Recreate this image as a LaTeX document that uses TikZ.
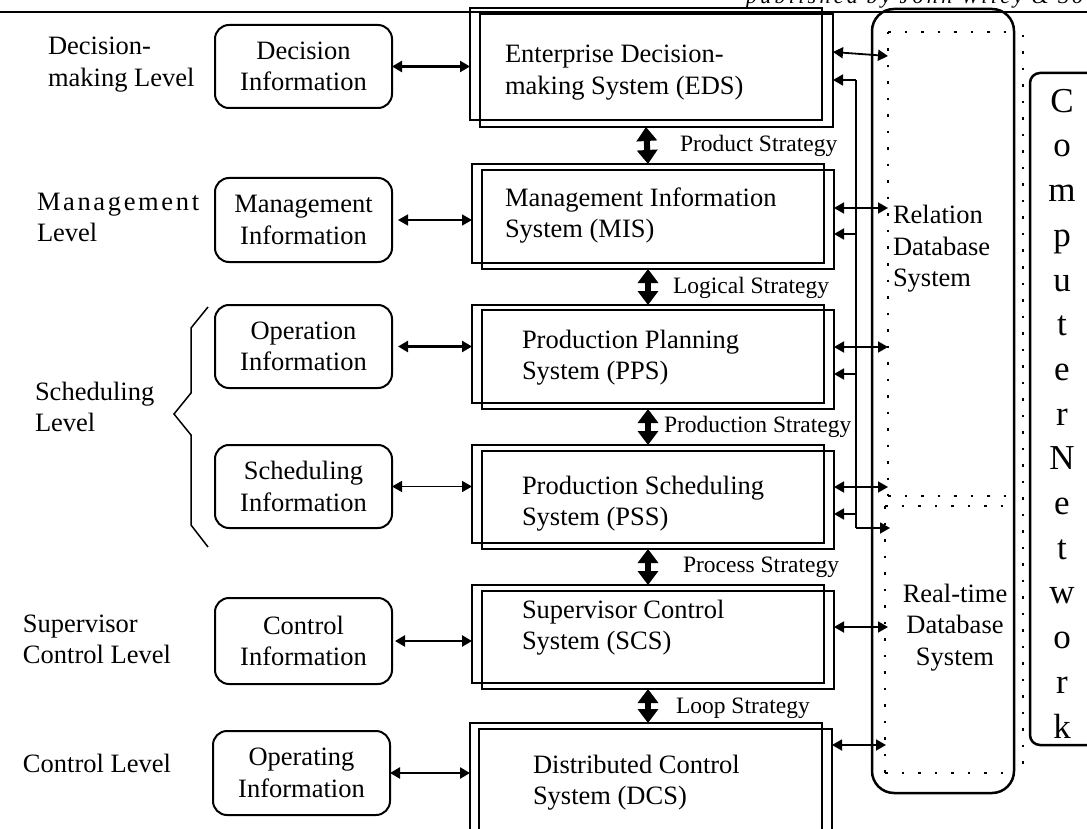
\documentclass[tikz,border=0pt]{standalone}
\usepackage{fontspec}
\setmainfont{Liberation Serif}
\usetikzlibrary{arrows.meta}

\newcommand{\mainsize}{\fontsize{26.5}{31.5}\selectfont}
\newcommand{\stratsize}{\fontsize{23.5}{28}\selectfont}

\tikzset{
  every node/.style={inner sep=0pt, outer sep=0pt},
  % multi-line nodes are placed by the baseline of their last line
  lbl/.style={font=\mainsize, align=left, anchor=base west},
  infobox/.style={draw, line width=2pt, rounded corners=14pt, font=\mainsize,
    align=center, minimum width=177pt},
  sysbox/.style={draw, line width=1.6pt},
  systext/.style={font=\mainsize, align=left, anchor=base west},
  strat/.style={font=\stratsize, anchor=base west},
  bigtip/.tip={Triangle[length=10pt 0 0,width=11pt 0 0]},
  fattip/.tip={Triangle[length=14pt 0 0,width=20pt 0 0]},
  thickarr/.style={line width=2.8pt, {bigtip}-{bigtip}},
  thinarr/.style={line width=1.6pt, {bigtip}-{bigtip}},
  stratarr/.style={line width=6pt, {fattip}-{fattip}},
  dbarr/.style={line width=1.8pt, {bigtip}-{bigtip}},
  feedline/.style={line width=1.8pt},
  feedarr/.style={line width=1.8pt, -{bigtip}},
  dots/.style={line width=1.6pt, dash pattern=on 2.5pt off 14pt},
}

\begin{document}
\begin{tikzpicture}[x=1pt,y=-1pt]
\useasboundingbox (0,0) rectangle (1087,829);

% header rule and running head
\draw[line width=1.5pt] (0,12) -- (1087,12);
\node[anchor=base west, font=\fontsize{22}{26}\selectfont\itshape\addfontfeature{LetterSpace=15}]
  (runhead) at (746,3.5) {published by John Wiley \& Sons};

% level labels
\node[lbl] (lvdec) at (48,86.5) {Decision-\\making Level};
\node[lbl] (lvman) at (37,241.5) {{\addfontfeature{LetterSpace=10}Management}\\Level};
\node[lbl] (lvsch) at (35,431.5) {Scheduling\\Level};
\node[lbl] (lvsup) at (23,663.5) {Supervisor\\Control Level};
\node[lbl] (lvcon) at (23,772) {Control Level};

% brace grouping the scheduling level
\draw[line width=1.5pt] (208,307) -- (191,328) -- (191,393) -- (174,414)
  -- (191,435) -- (191,525) -- (208,547);

% information boxes
\node[infobox, minimum height=83pt] (decinfo) at (303.5,66.5) {Decision\\Information};
\node[infobox, minimum height=84pt] (maninfo) at (303.5,220) {Management\\Information};
\node[infobox, minimum height=83pt] (opinfo)  at (303.5,346.5) {Operation\\Information};
\node[infobox, minimum height=83pt] (schinfo) at (303.5,486.5) {Scheduling\\Information};
\node[infobox, minimum height=86pt] (coninfo) at (303.5,641) {Control\\Information};
\node[infobox, minimum height=84pt] (opginfo) at (301.5,773) {Operating\\Information};

% system boxes: each drawn as two offset frames
\node[sysbox, minimum width=352pt, minimum height=112pt] (edsA) at (646,64) {};
\node[sysbox, minimum width=353pt, minimum height=113pt] (edsB) at (656.5,70.5) {};
\node[sysbox, minimum width=352pt, minimum height=99pt] (misA) at (648,213.5) {};
\node[sysbox, minimum width=352pt, minimum height=99pt] (misB) at (658,219.5) {};
\node[sysbox, minimum width=352pt, minimum height=98pt] (ppsA) at (648,354) {};
\node[sysbox, minimum width=352pt, minimum height=99pt] (ppsB) at (658,359.5) {};
\node[sysbox, minimum width=352pt, minimum height=98pt] (pssA) at (648,494) {};
\node[sysbox, minimum width=352pt, minimum height=98pt] (pssB) at (658,500) {};
\node[sysbox, minimum width=352pt, minimum height=98pt] (scsA) at (648,634) {};
\node[sysbox, minimum width=352pt, minimum height=98pt] (scsB) at (658,640) {};
\node[sysbox, minimum width=352pt, minimum height=147pt] (dcsA) at (646,796.5) {};
\node[sysbox, minimum width=353pt, minimum height=141pt] (dcsB) at (655.5,799.5) {};

\node[systext] (edstxt) at (505,94.5)  {Enterprise Decision-\\making System (EDS)};
\node[systext] (mistxt) at (505,237.5) {Management Information\\System (MIS)};
\node[systext] (ppstxt) at (522,379.5) {Production Planning\\System (PPS)};
\node[systext] (psstxt) at (522,525.5) {Production Scheduling\\System (PSS)};
\node[systext] (scstxt) at (522,649.5) {Supervisor Control\\System (SCS)};
\node[systext] (dcstxt) at (533,804.5) {Distributed Control\\System (DCS)};

% strategy labels
\node[strat] (st1) at (680,152) {Product Strategy};
\node[strat] (st2) at (673,293) {Logical Strategy};
\node[strat] (st3) at (664,432) {Production Strategy};
\node[strat] (st4) at (683,572) {Process Strategy};
\node[strat] (st5) at (676,713) {Loop Strategy};

% information exchange with the left boxes
\draw[thickarr] (decinfo.east) -- (edsA.west |- decinfo.east);
\draw[thinarr]  ([xshift=6pt]maninfo.east) -- (misA.west |- maninfo.east);
\draw[thickarr] ([xshift=6pt]opinfo.east) -- (ppsA.west |- opinfo.east);
\draw[thinarr]  (schinfo.east) -- (pssA.west |- schinfo.east);
\draw[thickarr] ([xshift=3pt]coninfo.east) -- (scsA.west |- coninfo.east);
\draw[thickarr] (opginfo.east) -- (dcsA.west |- opginfo.east);

% strategy arrows between levels
\draw[stratarr] (edsA.center |- edsB.south) -- (misA.north);
\draw[stratarr] (misA.center |- misB.south) -- (ppsA.north);
\draw[stratarr] (ppsA.center |- ppsB.south) -- (pssA.north);
\draw[stratarr] (pssA.center |- pssB.south) -- (scsA.north);
\draw[stratarr] (scsA.center |- scsB.south) -- (dcsA.north -| scsA.center);

% database frame and its two partitions
\node[draw, line width=2.5pt, rounded corners=22pt, minimum width=142pt,
  minimum height=784pt] (dbframe) at (943,401) {};
\draw[dots] (888,32) -- (1012,32);
\draw[dots] (888,32) -- (888,496);
\draw[dots] (888,496) -- (1010,496);
\draw[dots] (885,506) -- (1010,506);
\draw[dots] (885,506) -- (885,773);
\draw[dots] (885,773) -- (1012,773);
\draw[dots] (1023,35) -- (1023,770);

\node[systext] (reltxt) at (893,287) {Relation\\Database\\System};
\node[font=\mainsize, align=center, anchor=base] (rttxt) at (955,665)
  {Real-time\\Database\\System};

% computer network bar
\node[draw, line width=2.5pt, rounded corners=10pt, minimum width=80pt,
  minimum height=672pt] (cnbox) at (1070,409) {};
\node[font=\fontsize{35}{44.7}\selectfont, align=center, anchor=base] (cntxt) at (1062,738)
  {C\\o\\m\\p\\u\\t\\e\\r\\N\\e\\t\\w\\o\\r\\k};

% links to the databases
\coordinate (r1) at (888,56);
\coordinate (r2) at (888,208);
\coordinate (r3) at (888,347);
\coordinate (r4) at (888,487);
\coordinate (r5) at (888,627);
\coordinate (r6) at (886,745);
\draw[dbarr] (edsB.east |- 0,52) -- (r1);
\draw[dbarr] (misB.east |- r2) -- (r2);
\draw[dbarr] (ppsB.east |- r3) -- (r3);
\draw[dbarr] (pssB.east |- r4) -- (r4);
\draw[dbarr] (scsB.east |- r5) -- (r5);
\draw[dbarr] (dcsB.east |- r6) -- (r6);

% feedback bus from the real-time database
\coordinate (fb1) at (856,80);
\coordinate (fb2) at (856,234);
\coordinate (fb3) at (856,374);
\coordinate (fb4) at (856,514);
\coordinate (fbend) at (856,528);
\coordinate (rtin) at (890,528);
\draw[feedarr] (fbend) -- (rtin);
\draw[feedline] (fb1) -- (fbend);
\draw[feedarr] (fb1) -- (edsB.east |- fb1);
\draw[feedarr] (fb2) -- (misB.east |- fb2);
\draw[feedarr] (fb3) -- (ppsB.east |- fb3);
\draw[feedarr] (fb4) -- (pssB.east |- fb4);
\end{tikzpicture}
\end{document}
